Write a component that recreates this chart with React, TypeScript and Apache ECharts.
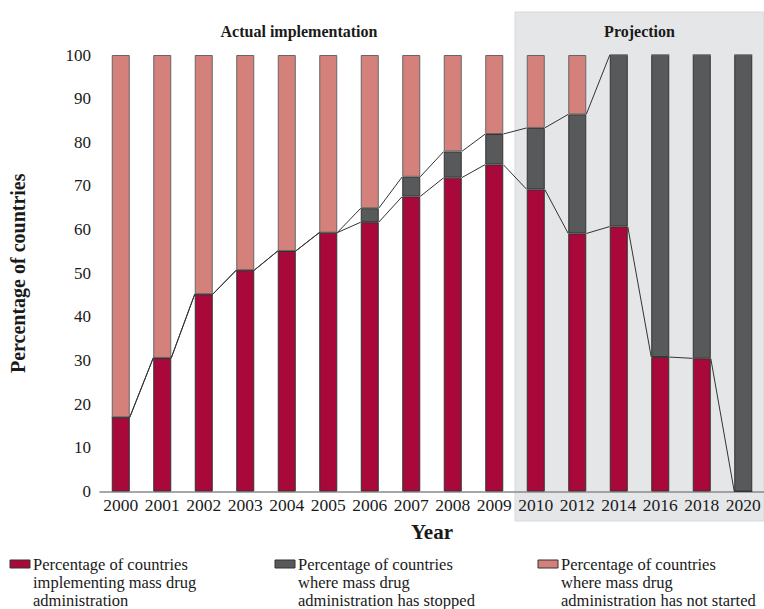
import React, { useEffect, useRef } from "react";
import * as echarts from "echarts";

const years = ["2000", "2001", "2002", "2003", "2004", "2005", "2006", "2007", "2008", "2009", "2010", "2012", "2014", "2016", "2018", "2020"];
const implementing = [17, 30.6, 45.2, 50.7, 55.1, 59.3, 61.7, 67.6, 71.9, 74.9, 69.2, 59.1, 60.7, 30.8, 30.5, 0];
const stopped = [0, 0, 0, 0, 0, 0, 3.2, 4.5, 6.0, 7.0, 14.1, 27.3, 39.3, 69.2, 69.5, 100];
const notStarted = [83, 69.4, 54.8, 49.3, 44.9, 40.7, 35.1, 27.9, 22.1, 18.1, 16.7, 13.6, 0, 0, 0, 0];
const yTicks = [0, 10, 20, 30, 40, 50, 60, 70, 80, 90, 100];
const seriesNames = [
  "Percentage of countries\nimplementing mass drug\nadministration",
  "Percentage of countries\nwhere mass drug\nadministration has stopped",
  "Percentage of countries\nwhere mass drug\nadministration has not started",
];
const phaseLabels = ["Actual implementation", "Projection"];
const firstProjectionYear = "2010";

const C_IMPL = "#A9083A";
const C_STOP = "#58595B";
const C_NOT = "#D4817C";
const FONT = "Liberation Serif";

export default function App() {
  const ref = useRef<HTMLDivElement>(null);
  useEffect(() => {
    if (!ref.current) return;
    const chart = echarts.init(ref.current, null, { renderer: "svg" });
    const halfBar = 9;
    const implSegs = implementing.slice(0, -1).map((v, i) => [i, v, implementing[i + 1]]);
    const cum = implementing.map((v, i) => v + stopped[i]);
    const lastUpper = years.indexOf("2014");
    const upperSegs = cum.slice(0, lastUpper).map((v, i) => [i, v, cum[i + 1]]);
    const renderSeg = (params: any, api: any) => {
      const a = api.coord([api.value(0), api.value(1)]);
      const b = api.coord([api.value(0) + 1, api.value(2)]);
      return {
        type: "line",
        shape: { x1: a[0] + halfBar, y1: a[1], x2: b[0] - halfBar, y2: b[1] },
        style: { stroke: "#333", lineWidth: 1 },
      };
    };
    chart.setOption({
      animation: false,
      grid: { left: 97, top: 55, width: 670, bottom: 117.5 },
      xAxis: {
        type: "category",
        data: years,
        axisLine: { lineStyle: { color: "#8a8a8a", width: 1.5 } },
        axisTick: { show: false },
        axisLabel: { color: "#1a1a1a", fontFamily: FONT, fontSize: 17.5, margin: 4, interval: 0 },
        name: "Year",
        nameLocation: "middle",
        nameGap: 30,
        nameTextStyle: { color: "#1a1a1a", fontFamily: FONT, fontSize: 21, fontWeight: "bold" },
      },
      yAxis: {
        type: "value",
        min: yTicks[0],
        max: yTicks[yTicks.length - 1],
        interval: 10,
        splitLine: { show: false },
        axisLine: { show: false },
        axisTick: { show: false },
        axisLabel: { color: "#1a1a1a", fontFamily: FONT, fontSize: 17, margin: 9 },
        name: "Percentage of countries",
        nameLocation: "middle",
        nameGap: 72,
        nameTextStyle: { color: "#1a1a1a", fontFamily: FONT, fontSize: 20, fontWeight: "bold" },
      },
      series: [
        { name: seriesNames[0], type: "bar", stack: "t", data: implementing, barWidth: 18, itemStyle: { color: C_IMPL, borderColor: "#333", borderWidth: 1 } },
        { name: seriesNames[1], type: "bar", stack: "t", data: stopped, barWidth: 18, itemStyle: { color: C_STOP, borderColor: "#333", borderWidth: 1 } },
        { name: seriesNames[2], type: "bar", stack: "t", data: notStarted, barWidth: 18, itemStyle: { color: C_NOT, borderColor: "#666", borderWidth: 1 } },
        { type: "custom", renderItem: renderSeg, data: implSegs, encode: { x: 0, y: 1 }, z: 5, silent: true },
        { type: "custom", renderItem: renderSeg, data: upperSegs, encode: { x: 0, y: 1 }, z: 5, silent: true },
      ],
    });
    const idx = years.indexOf(firstProjectionYear);
    const pa = chart.convertToPixel({ xAxisIndex: 0 }, years[idx - 1]) as number;
    const pb = chart.convertToPixel({ xAxisIndex: 0 }, years[idx]) as number;
    const boxLeft = (pa + pb) / 2;
    const swatchColors = [C_IMPL, C_STOP, C_NOT];
    const legendX = [10, 275, 538];
    const legendEls: any[] = [];
    seriesNames.forEach((n, i) => {
      legendEls.push({ type: "rect", shape: { x: legendX[i], y: 560, width: 20, height: 8 }, style: { fill: swatchColors[i], stroke: "#333", lineWidth: 1 } });
      legendEls.push({ type: "text", x: legendX[i] + 23, y: 555, style: { text: n, fill: "#1a1a1a", font: `16.5px "${FONT}"`, lineHeight: 18, textVerticalAlign: "top" } });
    });
    chart.setOption({
      graphic: [
        { type: "rect", z: -10, shape: { x: boxLeft, y: 12, width: 764 - boxLeft, height: 509 }, style: { fill: "#E5E6E8", stroke: "#d8d9db" } },
        { type: "text", x: 299, y: 31, style: { text: phaseLabels[0], fill: "#1a1a1a", font: `bold 16px "${FONT}"`, textAlign: "center", textVerticalAlign: "middle" } },
        { type: "text", x: (boxLeft + 764) / 2, y: 31, style: { text: phaseLabels[1], fill: "#1a1a1a", font: `bold 16px "${FONT}"`, textAlign: "center", textVerticalAlign: "middle" } },
        ...legendEls,
      ],
    });
    return () => chart.dispose();
  }, []);
  return <div ref={ref} style={{ width: 764, height: 609, position: "absolute", left: 0, top: 0 }} />;
}
